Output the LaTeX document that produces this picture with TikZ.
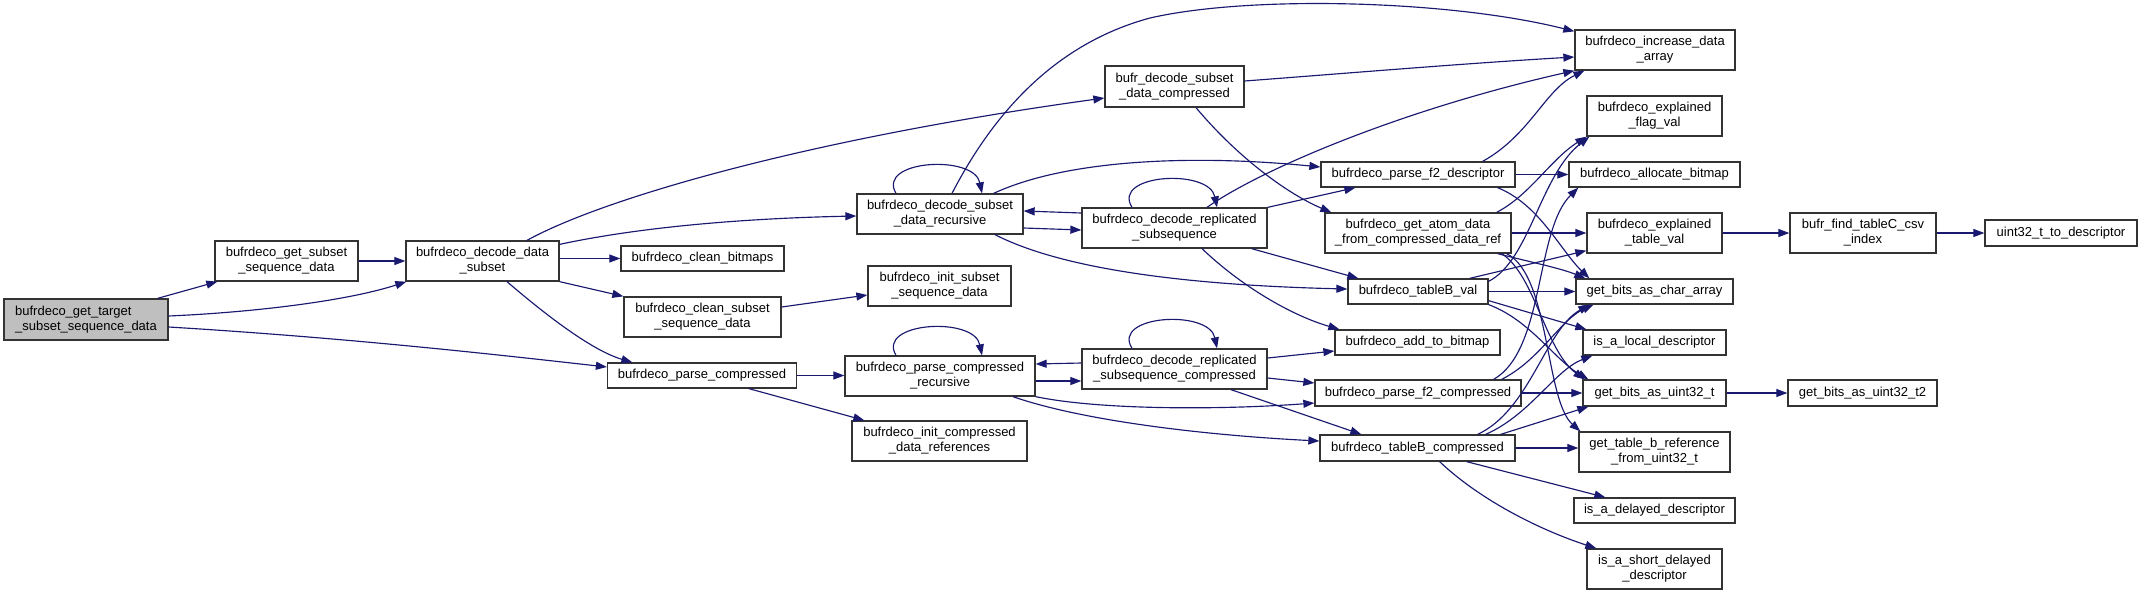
\documentclass[tikz,border=0pt]{standalone}
\usepackage{fontspec}
\setmainfont{Liberation Sans}
\usetikzlibrary{arrows.meta}
\definecolor{edgecol}{HTML}{191970}
\definecolor{rootfill}{HTML}{BFBFBF}
\definecolor{boxline}{HTML}{333333}
\begin{document}
\begin{tikzpicture}[x=1pt,y=-1pt,
  fn/.style={draw=boxline, line width=1.3pt, fill=white, inner sep=0pt, align=center,
    font=\fontsize{13}{15}\selectfont},
  root/.style={fn, fill=rootfill, align=left},
  edge/.style={draw=edgecol, line width=1.15pt, -{Triangle[length=11pt,width=8pt]}, fill=none},
  W/.style={minimum width=#1},
  H/.style={minimum height=#1}]
\useasboundingbox (0,0) rectangle (2141,595);
% nodes
\node[root,W=164pt,H=41pt] (target) at (86,319.5) {bufrdeco\_get\_target\\\_subset\_sequence\_data};
\node[fn,W=143pt,H=40pt] (getsubset) at (286.5,261) {bufrdeco\_get\_subset\\\_sequence\_data};
\node[fn,W=153pt,H=40pt] (decodedata) at (482.5,261) {bufrdeco\_decode\_data\\\_subset};
\node[fn,W=139pt,H=41pt] (bufrdecomp) at (1174.5,86.5) {bufr\_decode\_subset\\\_data\_compressed};
\node[fn,W=166pt,H=40pt] (recursive) at (940,214) {bufrdeco\_decode\_subset\\\_data\_recursive};
\node[fn,W=185pt,H=40pt] (replicated) at (1174.5,228) {bufrdeco\_decode\_replicated\\\_subsequence};
\node[fn,W=163pt,H=25pt] (cleanbitmaps) at (702.5,258.5) {bufrdeco\_clean\_bitmaps};
\node[fn,W=143pt,H=40pt] (initsubset) at (939.5,286) {bufrdeco\_init\_subset\\\_sequence\_data};
\node[fn,W=157pt,H=40pt] (cleansubset) at (702.5,317) {bufrdeco\_clean\_subset\\\_sequence\_data};
\node[fn,W=189pt,H=25pt] (parsecomp) at (702,375.5) {bufrdeco\_parse\_compressed};
\node[fn,W=190pt,H=40pt] (parsecomprec) at (940,376) {bufrdeco\_parse\_compressed\\\_recursive};
\node[fn,W=175pt,H=40pt] (initcompref) at (939.5,441) {bufrdeco\_init\_compressed\\\_data\_references};
\node[fn,W=185pt,H=40pt] (replcomp) at (1174.5,369) {bufrdeco\_decode\_replicated\\\_subsequence\_compressed};
\node[fn,W=194pt,H=25pt] (parsef2desc) at (1418,174.5) {bufrdeco\_parse\_f2\_descriptor};
\node[fn,W=186pt,H=40pt] (getatom) at (1418,233) {bufrdeco\_get\_atom\_data\\\_from\_compressed\_data\_ref};
\node[fn,W=140pt,H=25pt] (tableBval) at (1418,291.5) {bufrdeco\_tableB\_val};
\node[fn,W=165pt,H=25pt] (addbitmap) at (1417.5,342.5) {bufrdeco\_add\_to\_bitmap};
\node[fn,W=206pt,H=26pt] (parsef2comp) at (1418,393) {bufrdeco\_parse\_f2\_compressed};
\node[fn,W=195pt,H=26pt] (tableBcomp) at (1417.5,448) {bufrdeco\_tableB\_compressed};
\node[fn,W=160pt,H=40pt] (increase) at (1655,50) {bufrdeco\_increase\_data\\\_array};
\node[fn,W=135pt,H=40pt] (flag) at (1654.5,116) {bufrdeco\_explained\\\_flag\_val};
\node[fn,W=171pt,H=25pt] (allocate) at (1654.5,174.5) {bufrdeco\_allocate\_bitmap};
\node[fn,W=135pt,H=40pt] (tableval) at (1654.5,233) {bufrdeco\_explained\\\_table\_val};
\node[fn,W=157pt,H=25pt] (charArr) at (1654.5,291.5) {get\_bits\_as\_char\_array};
\node[fn,W=143pt,H=25pt] (islocal) at (1654.5,342.5) {is\_a\_local\_descriptor};
\node[fn,W=143pt,H=26pt] (uint32) at (1654.5,393) {get\_bits\_as\_uint32\_t};
\node[fn,W=151pt,H=40pt] (tablebref) at (1654.5,452) {get\_table\_b\_reference\\\_from\_uint32\_t};
\node[fn,W=161pt,H=25pt] (delayed) at (1654.5,510.5) {is\_a\_delayed\_descriptor};
\node[fn,W=135pt,H=40pt] (shortdelayed) at (1654.5,569) {is\_a\_short\_delayed\\\_descriptor};
\node[fn,W=146pt,H=40pt] (findC) at (1863,233) {bufr\_find\_tableC\_csv\\\_index};
\node[fn,W=152pt,H=26pt] (uint32desc) at (2061,233) {uint32\_t\_to\_descriptor};
\node[fn,W=149pt,H=26pt] (uint32t2) at (1862.5,393) {get\_bits\_as\_uint32\_t2};
% edges
\draw[edge] ([xshift=-11pt]target.north east) -- ([xshift=3pt]getsubset.south west);
\draw[edge] ([yshift=3.5pt]target.east) .. controls (260,312) and (350,300) .. ([xshift=1pt]decodedata.south west);
\draw[edge] ([yshift=-7.5pt]target.east) .. controls (350,338) and (500,355) .. ([yshift=8.5pt]parsecomp.west);
\draw[edge] (getsubset.east) -- (decodedata.west);
\draw[edge] ([xshift=44.5pt]decodedata.north) .. controls (600,200) and (800,140) .. ([yshift=-11.5pt]bufrdecomp.west);
\draw[edge] ([yshift=-4pt]decodedata.north east) .. controls (650,225) and (760,218) .. ([yshift=-2pt]recursive.west);
\draw[edge] (decodedata.east |- cleanbitmaps.west) -- (cleanbitmaps.west);
\draw[edge] (decodedata.south east) -- (cleansubset.north west);
\draw[edge] ([xshift=24.5pt]decodedata.south) .. controls (540,310) and (590,350) .. ([xshift=25.5pt]parsecomp.north west);
\draw[edge] ([yshift=10pt]cleansubset.east) -- ([yshift=-9pt]initsubset.west);
\draw[edge] (parsecomp.east) -- (parsecomprec.west |- parsecomp.east);
\draw[edge] ([xshift=47pt]parsecomp.south) -- ([xshift=13pt]initcompref.north west);
\draw[edge] ([yshift=5.5pt]bufrdecomp.east) .. controls (1350,73) and (1470,63) .. ([yshift=-7pt]increase.west);
\draw[edge] ([xshift=21.5pt]bufrdecomp.south) .. controls (1240,160) and (1290,195) .. ([xshift=7pt]getatom.north west);
% recursive
\draw[edge] ([xshift=-44pt]recursive.north) .. controls (876,160) and (974,154) .. ([xshift=42pt]recursive.north);
\draw[edge] ([xshift=12pt]recursive.north) .. controls (990,120) and (1050,45) .. (1150,18) .. controls (1250,-5) and (1450,0) .. ([yshift=-2pt]increase.north west);
\draw[edge] ([xshift=-30pt]recursive.north east) .. controls (1070,158) and (1200,155) .. ([yshift=7.5pt]parsef2desc.west);
\draw[edge] ([yshift=-14pt]recursive.east) -- ([yshift=-2pt]replicated.west);
\draw[edge] ([yshift=15pt]replicated.west) -- ([yshift=3pt]recursive.east);
\draw[edge] ([xshift=55pt]recursive.south) .. controls (1060,268) and (1180,285) .. ([yshift=2.5pt]tableBval.west);
% replicated
\draw[edge] ([xshift=-42.5pt]replicated.north) .. controls (1111,174) and (1209,168) .. ([xshift=42.5pt]replicated.north);
\draw[edge] ([xshift=32.5pt]replicated.north) .. controls (1260,170) and (1400,110) .. (increase.south west);
\draw[edge] (replicated.north east) -- ([xshift=35pt]parsef2desc.south west);
\draw[edge] ([xshift=-16pt]replicated.south east) -- ([xshift=11pt]tableBval.north west);
\draw[edge] ([xshift=27.5pt]replicated.south) .. controls (1240,285) and (1290,315) .. ([xshift=5pt]addbitmap.north west);
% parse compressed recursive
\draw[edge] ([xshift=-44pt]parsecomprec.north) .. controls (876,322) and (974,316) .. ([xshift=42pt]parsecomprec.north);
\draw[edge] ([yshift=-5pt]parsecomprec.east) -- ([yshift=-12pt]replcomp.west);
\draw[edge] ([yshift=6pt]replcomp.west) -- ([yshift=12pt]parsecomprec.east);
\draw[edge] (parsecomprec.south east) .. controls (1100,410) and (1220,410) .. ([yshift=-10pt]parsef2comp.west);
\draw[edge] ([xshift=73pt]parsecomprec.south) .. controls (1080,420) and (1200,435) .. ([yshift=7pt]tableBcomp.west);
% replicated compressed
\draw[edge] ([xshift=-42.5pt]replcomp.north) .. controls (1111,315) and (1209,309) .. ([xshift=42.5pt]replcomp.north);
\draw[edge] ([yshift=11pt]replcomp.east) -- ([yshift=-8.5pt]addbitmap.west);
\draw[edge] ([yshift=-9pt]replcomp.east) -- ([yshift=10pt]parsef2comp.west);
\draw[edge] ([xshift=56.5pt]replcomp.south) -- ([xshift=42pt]tableBcomp.north west);
% parse f2 descriptor
\draw[edge] ([xshift=-33pt]parsef2desc.north east) .. controls (1530,135) and (1545,90) .. ([xshift=10pt]increase.south west);
\draw[edge] (parsef2desc.east) -- (allocate.west);
\draw[edge] ([xshift=-18pt]parsef2desc.south east) .. controls (1540,205) and (1560,250) .. ([xshift=14pt]charArr.north west);
% get atom
\draw[edge] ([xshift=-15pt]getatom.north east) .. controls (1530,195) and (1550,160) .. (flag.south west);
\draw[edge] (getatom.east) -- (tableval.west);
\draw[edge] ([xshift=-14pt]getatom.south east) .. controls (1530,262) and (1560,268) .. ([xshift=10pt]charArr.north west);
\draw[edge] ([xshift=-10pt]getatom.south east) .. controls (1535,275) and (1545,350) .. ([xshift=2pt]uint32.north west);
\draw[edge] ([xshift=-5pt]getatom.south east) .. controls (1550,275) and (1545,400) .. ([xshift=2pt]tablebref.north west);
% tableB val
\draw[edge] ([yshift=-3pt]tableBval.north east) .. controls (1530,260) and (1540,175) .. ([xshift=3pt]flag.south west);
\draw[edge] ([xshift=-19pt]tableBval.north east) -- ([yshift=3pt]tableval.south west);
\draw[edge] (tableBval.east) -- (charArr.west);
\draw[edge] ([yshift=4pt]tableBval.south east) -- ([xshift=4pt]islocal.north west);
\draw[edge] (tableBval.south east) .. controls (1530,320) and (1555,360) .. ([xshift=6pt]uint32.north west);
% parse f2 compressed
\draw[edge] ([xshift=-28pt]parsef2comp.north east) .. controls (1545,350) and (1535,230) .. ([xshift=10pt]allocate.south west);
\draw[edge] ([xshift=-20pt]parsef2comp.north east) .. controls (1540,360) and (1560,320) .. ([xshift=18pt]charArr.south west);
\draw[edge] (parsef2comp.east) -- (uint32.west);
% tableB compressed
\draw[edge] ([xshift=-38pt]tableBcomp.north east) .. controls (1530,410) and (1545,330) .. ([xshift=14pt]charArr.south west);
\draw[edge] ([xshift=-30pt]tableBcomp.north east) .. controls (1530,415) and (1555,370) .. ([xshift=10pt]islocal.south west);
\draw[edge] ([xshift=-15pt]tableBcomp.north east) -- ([xshift=6pt]uint32.south west);
\draw[edge] (tableBcomp.east) -- (tablebref.west |- tableBcomp.east);
\draw[edge] ([xshift=-49pt]tableBcomp.south east) -- ([xshift=32pt]delayed.north west);
\draw[edge] ([xshift=-76pt]tableBcomp.south east) .. controls (1480,500) and (1540,530) .. ([xshift=10pt]shortdelayed.north west);
% right
\draw[edge] (tableval.east) -- (findC.west);
\draw[edge] (findC.east) -- (uint32desc.west);
\draw[edge] (uint32.east) -- (uint32t2.west);
\end{tikzpicture}
\end{document}
